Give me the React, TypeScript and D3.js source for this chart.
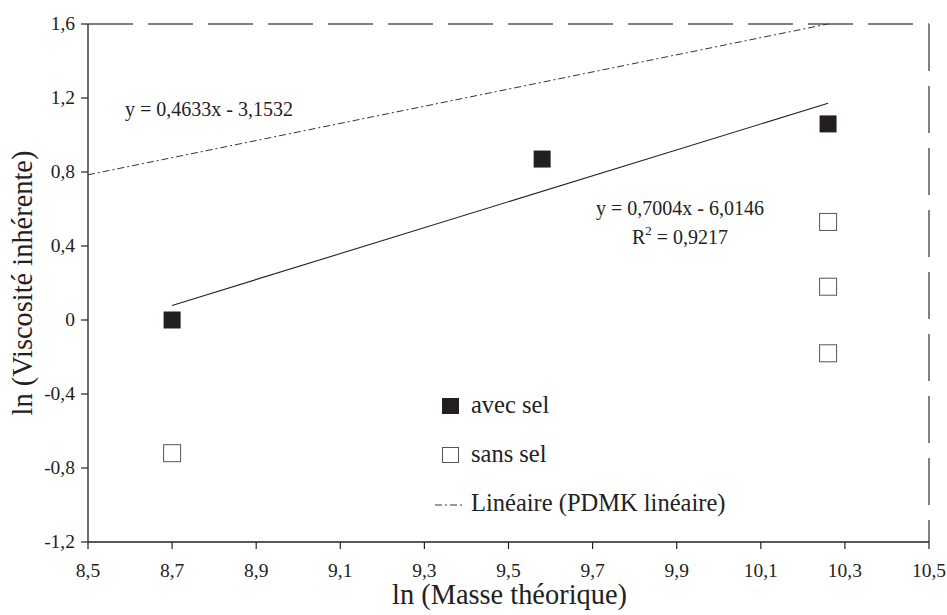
import React from "react";
import * as d3 from "d3";

const xTicks = [8.5, 8.7, 8.9, 9.1, 9.3, 9.5, 9.7, 9.9, 10.1, 10.3, 10.5];
const yTicks = [-1.2, -0.8, -0.4, 0, 0.4, 0.8, 1.2, 1.6];
const avecSelX = [8.7, 9.58, 10.26];
const avecSelY = [0, 0.87, 1.06];
const sansSelX = [8.7, 10.26, 10.26, 10.26];
const sansSelY = [-0.72, 0.53, 0.18, -0.18];
const trendSlope = 0.7004;
const trendIntercept = -6.0146;
const trendRange = [8.7, 10.26];
const pdmkSlope = 0.4633;
const pdmkIntercept = -3.1532;
const pdmkRange = [8.5, 10.26];

const fmt = (v: number) => {
  const s = Math.abs(v) < 1e-9 ? "0" : v.toFixed(1);
  return s.replace(".", ",");
};

export default function App() {
  const W = 947, H = 615;
  const left = 88, right = 929, top = 24, bottom = 542;
  const x = d3.scaleLinear().domain([8.5, 10.5]).range([left, right]);
  const y = d3.scaleLinear().domain([-1.2, 1.6]).range([bottom, top]);
  const ms = 17;
  const trend = d3.line<number>().x((v) => x(v)).y((v) => y(trendSlope * v + trendIntercept));
  const pdmk = d3.line<number>().x((v) => x(v)).y((v) => y(pdmkSlope * v + pdmkIntercept));

  return (
    <svg width={W} height={H} style={{ position: "absolute", left: 0, top: 0, fontFamily: "Liberation Serif" }}>
      <rect width={W} height={H} fill="#fff" />
      <line x1={left} y1={top} x2={right} y2={top} stroke="#808080" strokeWidth={2} strokeDasharray="45 15" />
      <line x1={right} y1={top} x2={right} y2={bottom} stroke="#808080" strokeWidth={2} strokeDasharray="47 15" />
      <line x1={left} y1={top} x2={left} y2={bottom} stroke="#222" strokeWidth={1.3} />
      <line x1={left} y1={bottom} x2={right} y2={bottom} stroke="#222" strokeWidth={1.3} />
      {yTicks.map((t) => (
        <g key={"y" + t}>
          <line x1={left - 7} x2={left} y1={y(t)} y2={y(t)} stroke="#222" strokeWidth={1.2} />
          <text x={left - 13} y={y(t) + 6.3} textAnchor="end" fontSize={19.5} fill="#222">{fmt(t)}</text>
        </g>
      ))}
      {xTicks.map((t) => (
        <g key={"x" + t}>
          <line x1={x(t)} x2={x(t)} y1={bottom} y2={bottom + 7} stroke="#222" strokeWidth={1.2} />
          <text x={x(t)} y={577} textAnchor="middle" fontSize={19.5} fill="#222">{fmt(t)}</text>
        </g>
      ))}
      <path d={pdmk(pdmkRange) || ""} fill="none" stroke="#333" strokeWidth={1} strokeDasharray="7 3 2 3" />
      <path d={trend(trendRange) || ""} fill="none" stroke="#222" strokeWidth={1.1} />
      {sansSelX.map((v, i) => (
        <rect key={"s" + i} x={x(v) - ms / 2} y={y(sansSelY[i]) - ms / 2} width={ms} height={ms} fill="#fff" stroke="#555" strokeWidth={1} />
      ))}
      {avecSelX.map((v, i) => (
        <rect key={"a" + i} x={x(v) - ms / 2} y={y(avecSelY[i]) - ms / 2} width={ms} height={ms} fill="#231f20" />
      ))}
      <text x={125} y={116} fontSize={20} fill="#222">y = 0,4633x - 3,1532</text>
      <text x={680} y={215} fontSize={20} fill="#222" textAnchor="middle">y = 0,7004x - 6,0146</text>
      <text x={680} y={244} fontSize={20} fill="#222" textAnchor="middle">
        R<tspan dy="-9" fontSize={13}>2</tspan><tspan dy="9"> = 0,9217</tspan>
      </text>
      <rect x={442} y={398} width={17} height={16} fill="#231f20" />
      <text x={471} y={413} fontSize={24.5} fill="#222">avec sel</text>
      <rect x={442.5} y={447.5} width={16} height={15} fill="#fff" stroke="#555" strokeWidth={1} />
      <text x={471} y={462} fontSize={24.5} fill="#222">sans sel</text>
      <line x1={435} x2={465} y1={505} y2={505} stroke="#333" strokeWidth={1} strokeDasharray="7 3 2 3" />
      <text x={471} y={511} fontSize={24.5} fill="#222">Linéaire (PDMK linéaire)</text>
      <text x={509.5} y={604} textAnchor="middle" fontSize={28.4} fill="#222">ln (Masse théorique)</text>
      <text transform={`translate(32,${(top + bottom) / 2}) rotate(-90)`} textAnchor="middle" fontSize={28.4} fill="#222">ln (Viscosité inhérente)</text>
    </svg>
  );
}
